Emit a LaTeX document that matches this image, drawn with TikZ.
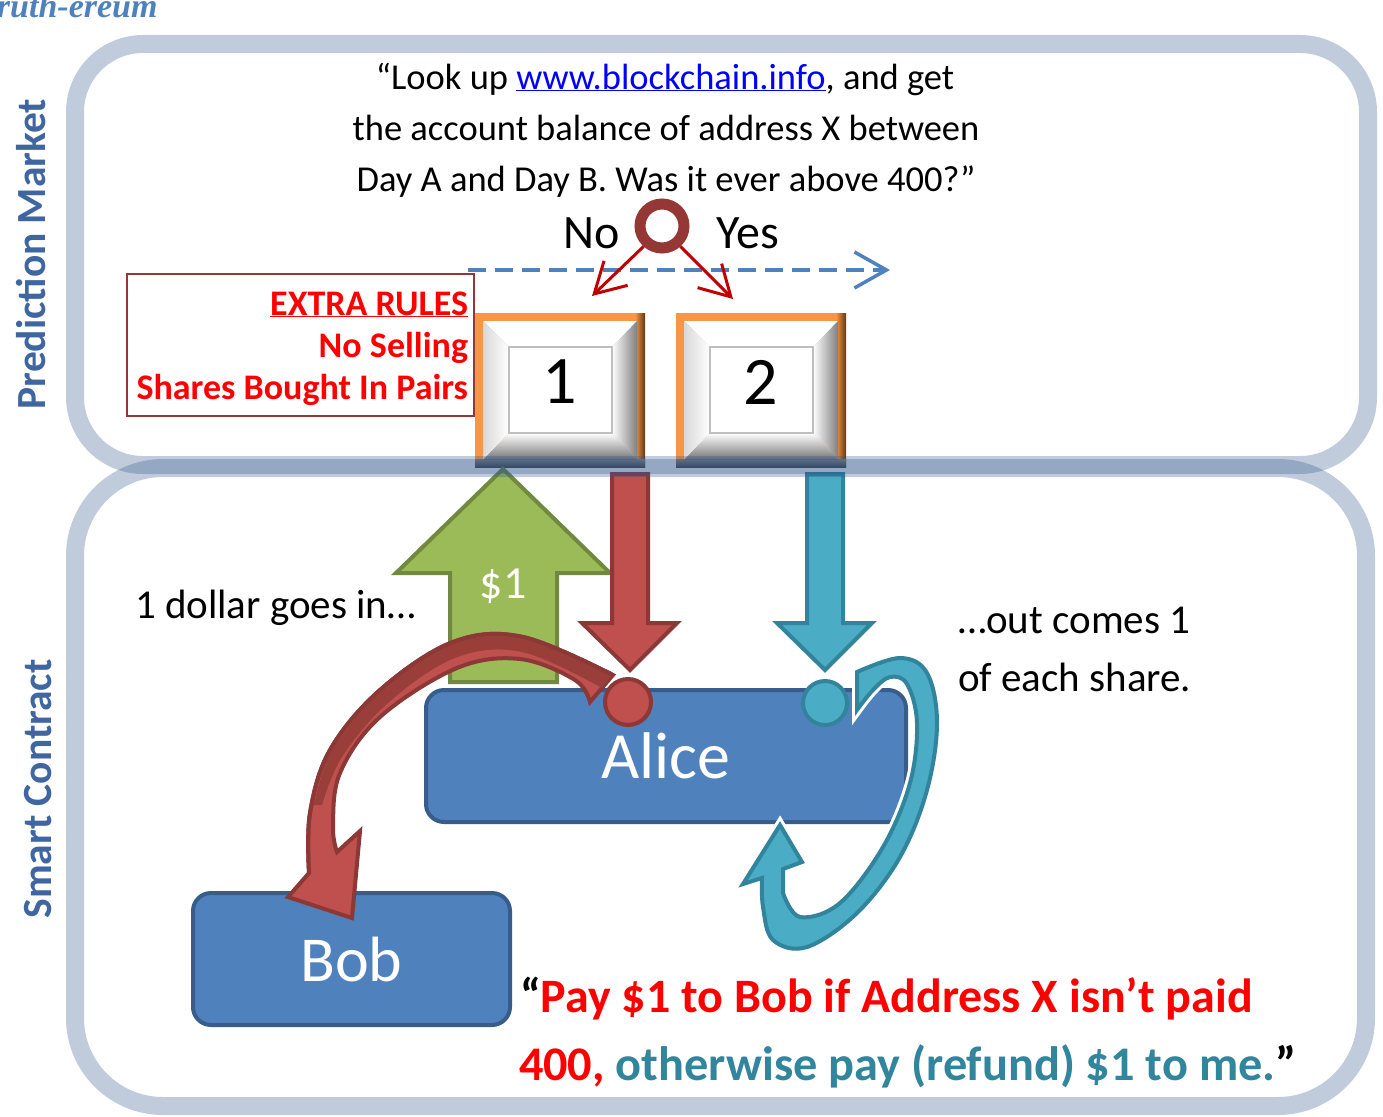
\documentclass[tikz,border=0pt]{standalone}
\usepackage{fontspec}
\setmainfont{Carlito}
\newfontfamily\ruthfont{Liberation Serif}
\usetikzlibrary{arrows.meta}
\newcommand\FSz[1]{\fontsize{#1}{#1}\selectfont}
\definecolor{frameC}{HTML}{2F568B}
\definecolor{sideC}{HTML}{3F66A0}
\definecolor{ringC}{HTML}{953735}
\definecolor{darrC}{HTML}{C00000}
\definecolor{dashC}{HTML}{4F81BD}
\definecolor{rulesC}{HTML}{953735}
\definecolor{oran}{HTML}{F79646}
\definecolor{oranD}{HTML}{5E3714}
\definecolor{grnF}{HTML}{9BBB59}
\definecolor{grnD}{HTML}{71893F}
\definecolor{redF}{HTML}{C0504D}
\definecolor{redD}{HTML}{8C3836}
\definecolor{redDD}{HTML}{9A3E3A}
\definecolor{tealF}{HTML}{4BACC6}
\definecolor{tealD}{HTML}{31849B}
\definecolor{boxF}{HTML}{4F81BD}
\definecolor{boxD}{HTML}{385D8A}
\definecolor{tealT}{HTML}{31859C}
\definecolor{linkC}{HTML}{0000FF}
\definecolor{pureRed}{HTML}{FF0000}
\definecolor{ruthC}{HTML}{4F81BD}
\tikzset{
  txt/.style={inner sep=0pt, outer sep=0pt},
  rulestxt/.style={txt, anchor=base east, text=pureRed, font=\FSz{36}\bfseries},
  sidelbl/.style={txt, rotate=90, text=sideC, font=\FSz{41.5}\bfseries},
  person/.style={draw=boxD, fill=boxF, line width=4, rounded corners=18, text=white, inner sep=0pt},
  blockarrow/.style={line width=4, line join=miter},
  thinred/.style={darrC, line width=3, -{Straight Barb[length=30,width=34]}},
  frame/.style={draw=frameC, draw opacity=0.3, line width=18},
}
\newcommand\bevelbox[4]{%
  \begin{scope}[shift={(#1,#2)}]
    \fill[oran] (0,0) rectangle (170,154);
    \shade[left color=oran, right color=oranD] (160,0) rectangle (170,154);
    \shade[top color=black!45, bottom color=black!75] (0,146) rectangle (170,154);
    \fill[white] (8,8) -- (162,8) -- (137,34) -- (34,34) -- cycle;
    \shade[left color=black!15, right color=white] (8,8) -- (34,34) -- (34,120) -- (8,147) -- cycle;
    \shade[left color=white, right color=black!50] (162,8) -- (137,34) -- (137,120) -- (162,147) -- cycle;
    \shade[top color=white, bottom color=black!55] (8,147) -- (34,120) -- (137,120) -- (162,147) -- cycle;
    \node[draw=black!25, line width=1.5, fill=white, minimum width=103, minimum height=86, inner sep=0pt] (#3) at (85.5,77) {};
    \node[txt, font=\FSz{68}] (#3lbl) at (85,69) {#4};
  \end{scope}}
\begin{document}
\begin{tikzpicture}[x=1pt,y=-1pt]
\useasboundingbox (0,0) rectangle (1383,1116);

% clipped header
\node[txt, anchor=base west, text=ruthC, font=\ruthfont\FSz{34}\bfseries\itshape] (ruth) at (-3,18) {ruth-ereum};

% side labels
\node[sidelbl] (pm) at (31,254) {Prediction Market};
\node[sidelbl] (sc) at (38,789) {Smart Contract};

% question
\node[txt, anchor=base, font=\FSz{36.5}] (q1) at (665,89) {“Look up \textcolor{linkC}{\underline{www.blockchain.info}}, and get};
\node[txt, anchor=base, font=\FSz{36.5}] (q2) at (666,140) {the account balance of address X between};
\node[txt, anchor=base, font=\FSz{36.5}] (q3) at (666,191) {Day A and Day B. Was it ever above 400?”};

\node[txt, anchor=base, font=\FSz{48}] (no) at (592,248) {No};
\node[txt, anchor=base, font=\FSz{48}] (yes) at (748,248) {Yes};
\node[circle, draw=ringC, line width=11, minimum size=44, inner sep=0pt] (ring) at (662,226) {};

% dashed timeline
\coordinate (dA) at (468,270);
\coordinate (dB) at (890,270);
\draw[dashC, line width=3.5, dash pattern=on 18 off 9, -{Straight Barb[length=32,width=36]}] (dA) -- (dB);

% extra rules
\node[draw=rulesC, line width=2.5, minimum width=347, minimum height=142, inner sep=0pt] (rules) at (300.5,345) {};
\node[rulestxt] (r1) at (468,315) {\underline{EXTRA RULES}};
\node[rulestxt] (r2) at (468,357) {No Selling};
\node[rulestxt] (r3) at (468,399) {Shares Bought In Pairs};

% share boxes
\bevelbox{475}{313}{share1}{1}
\bevelbox{676}{313}{share2}{2}

\coordinate (tipL) at (592,296);
\coordinate (tipR) at (733,299);
\draw[thinred] (ring.-132) -- (tipL);
\draw[thinred] (ring.-48) -- (tipR);

% block arrows
\filldraw[blockarrow, fill=grnF, draw=grnD] (450,682) -- (450,573) -- (396,573) -- (503,469) -- (610,573) -- (557,573) -- (557,682) -- cycle;
\node[txt, anchor=base, text=white, font=\FSz{46}] (one) at (503,598) {\$1};
\filldraw[blockarrow, fill=redF, draw=redD] (612,474) -- (648,474) -- (648,623) -- (677,623) -- (630,670) -- (582,623) -- (612,623) -- cycle;
\filldraw[blockarrow, fill=tealF, draw=tealD] (807,474) -- (843,474) -- (843,623) -- (872,623) -- (825,670) -- (777,623) -- (807,623) -- cycle;

% people
\node[person, minimum width=480, minimum height=132, font=\FSz{66}] (alice) at (666,756) {Alice};
\node[person, minimum width=317, minimum height=132, font=\FSz{64}] (bob) at (351.5,959) {Bob};

% curved red arrow (Alice pays Bob)
\filldraw[fill=redF, draw=redD, line width=4, line join=miter]
  plot[smooth, tension=0.6] coordinates {(613,675) (523,637) (453,642) (380,690) (330,750) (310,813) (309,873)}
  -- (288,897) -- (352,918) -- (360,831) --
  plot[smooth, tension=0.6] coordinates {(337,852) (333,827) (340,773) (380,717) (457,668) (520,659) (575,680) (590,702)}
  -- cycle;
\fill[redDD]
  plot[smooth, tension=0.6] coordinates {(611,676) (523,639) (453,644) (382,691) (332,751) (314,805)}
  -- plot[smooth, tension=0.6] coordinates {(322,805) (342,757) (388,703) (455,658) (522,652) (602,688)}
  -- cycle;
\draw[redD, line width=4, line join=miter]
  plot[smooth, tension=0.6] coordinates {(613,675) (523,637) (453,642) (380,690) (330,750) (310,813) (309,873)};

% circular teal arrow (refund)
\filldraw[fill=tealF, draw=tealD, line width=4, line join=miter, preaction={draw=white, line width=10}]
  plot[smooth, tension=0.6] coordinates {(857,672) (900,658) (927,673) (937,723) (927,790) (900,857) (857,913) (807,947) (773,940) (763,907) (762,878)}
  -- (743,884) -- (780,825) -- (802,862) -- (783,869) --
  plot[smooth, tension=0.6] coordinates {(783,893) (800,917) (840,903) (883,847) (910,783) (917,723) (907,684) (890,677) (873,690) (857,710)}
  -- cycle;

% share tokens
\node[circle, fill=redF, draw=redD, line width=4, minimum size=46, inner sep=0pt] (redTok) at (628,702) {};
\node[circle, fill=tealF, draw=tealD, line width=4, minimum size=44, inner sep=0pt] (tealTok) at (825,703) {};

% frames
\draw[frame, rounded corners=68] (75,44) rectangle (1368,465);
\draw[frame, rounded corners=88] (75,468) rectangle (1366,1106);

% side texts
\node[txt, anchor=base west, font=\FSz{41}] (inT) at (135,618) {1 dollar goes in…};
\node[txt, anchor=base west, font=\FSz{41}] (outT1) at (958,633) {…out comes 1};
\node[txt, anchor=base west, font=\FSz{41}] (outT2) at (958,691) {of each share.};

% contract text
\node[txt, anchor=base west, font=\FSz{48}\bfseries] (c1) at (520,1012) {“\textcolor{pureRed}{Pay \$1 to Bob if Address X isn’t paid}};
\node[txt, anchor=base west, font=\FSz{48.3}\bfseries] (c2) at (519,1080) {\textcolor{pureRed}{400,} \textcolor{tealT}{otherwise pay (refund) \$1 to me.}”};
\end{tikzpicture}
\end{document}
